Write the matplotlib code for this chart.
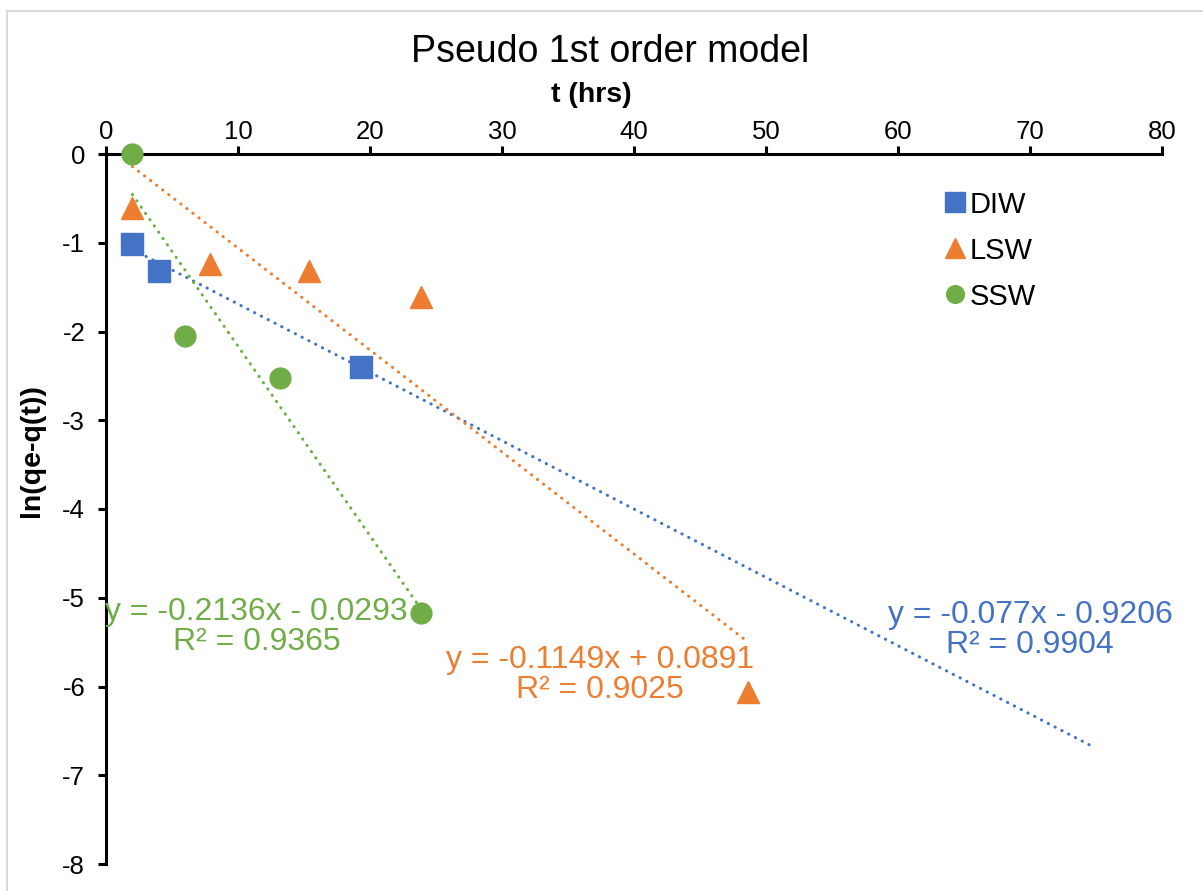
import numpy as np
import matplotlib.pyplot as plt
from matplotlib.patches import Rectangle

plt.rcParams['font.family'] = ['Liberation Sans', 'DejaVu Sans']
plt.rcParams['axes.unicode_minus'] = False

# data
t_diw = [2.0, 4.0, 19.3]
y_diw = [-1.01, -1.32, -2.40]
t_lsw = [2.0, 7.9, 15.4, 23.9, 48.6]
y_lsw = [-0.61, -1.24, -1.32, -1.61, -6.06]
t_ssw = [2.0, 6.0, 13.2, 23.9]
y_ssw = [0.0, -2.05, -2.52, -5.17]

# trendline coefficients as printed on the chart
fit_diw = (-0.077, -0.9206, 0.9904)
fit_lsw = (-0.1149, 0.0891, 0.9025)
fit_ssw = (-0.2136, -0.0293, 0.9365)
forecast_diw = 55.5  # forward forecast of the DIW trendline

c_blue = '#4472C4'
c_orange = '#ED7D31'
c_green = '#70AD47'

W, H = 1203, 891
fig = plt.figure(figsize=(W / 100, H / 100), dpi=100)
ax = fig.add_axes([106 / W, 1 - 864 / H, (1162 - 106) / W, (864 - 154) / H])

# chart border
fig.add_artist(Rectangle((7 / W, -0.1), 1.2, 1.1 - 11 / H, transform=fig.transFigure,
                         fill=False, edgecolor='#d9d9d9', lw=1.5))

def trend(x, fit, forward=0):
    xs = np.array([min(x), max(x) + forward])
    return xs, fit[0] * xs + fit[1]

dot = (0, (0.1, 2.4))
for x, fit, col, fw in [(t_diw, fit_diw, c_blue, forecast_diw),
                        (t_lsw, fit_lsw, c_orange, 0),
                        (t_ssw, fit_ssw, c_green, 0)]:
    xs, ys = trend(x, fit, fw)
    ax.plot(xs, ys, ls=dot, color=col, lw=2.2, dash_capstyle='round', zorder=2)

ax.plot(t_diw, y_diw, 's', color=c_blue, ms=16.5, mec=c_blue, ls='none', label='DIW',
        zorder=3, clip_on=False)
ax.plot(t_lsw, y_lsw, '^', color=c_orange, ms=16.5, mec=c_orange, ls='none', label='LSW',
        zorder=3, clip_on=False)
ax.plot(t_ssw, y_ssw, 'o', color=c_green, ms=15, mec=c_green, ls='none', label='SSW',
        zorder=3, clip_on=False)

def eq_text(fit):
    a, b, r2 = fit
    sign = '-' if b < 0 else '+'
    return 'y = {}x {} {}\nR² = {}'.format(a, sign, abs(b), r2)

ax.text(11.4, -5.33, eq_text(fit_ssw), color=c_green, fontsize=23, ha='center', va='center',
        linespacing=1.0)
ax.text(37.4, -5.87, eq_text(fit_lsw), color=c_orange, fontsize=23, ha='center', va='center',
        linespacing=1.0)
ax.text(70.0, -5.36, eq_text(fit_diw), color=c_blue, fontsize=23, ha='center', va='center',
        linespacing=1.0)

ax.set_xlim(0, 80)
ax.set_ylim(-8, 0)
ax.set_xticks(np.arange(0, 81, 10))
ax.set_yticks(np.arange(-8, 1, 1))
ax.xaxis.tick_top()
ax.spines['right'].set_visible(False)
ax.spines['bottom'].set_visible(False)
for s in ['top', 'left']:
    ax.spines[s].set_linewidth(2.2)
ax.tick_params(axis='both', direction='out', length=6, width=2.2, labelsize=18.5)
ax.tick_params(axis='y', pad=9)
ax.tick_params(axis='x', pad=1)

ax.set_xlabel('t (hrs)', fontsize=20.5, fontweight='bold')
ax.xaxis.set_label_position('top')
ax.xaxis.set_label_coords(0.46, 1.073)
ax.set_ylabel('ln(qe-q(t))', fontsize=20.5, fontweight='bold')
ax.yaxis.set_label_coords(-0.058, 0.583)
fig.text(610 / W, 1 - 52 / H, 'Pseudo 1st order model', fontsize=27, ha='center', va='center')

ax.legend(loc='upper left', bbox_to_anchor=(0.785, 0.965), frameon=False, fontsize=21,
          handlelength=0.6, handletextpad=0.2, labelspacing=0.62, markerscale=0.85,
          borderaxespad=0)

fig.savefig('out.png', dpi=100)
